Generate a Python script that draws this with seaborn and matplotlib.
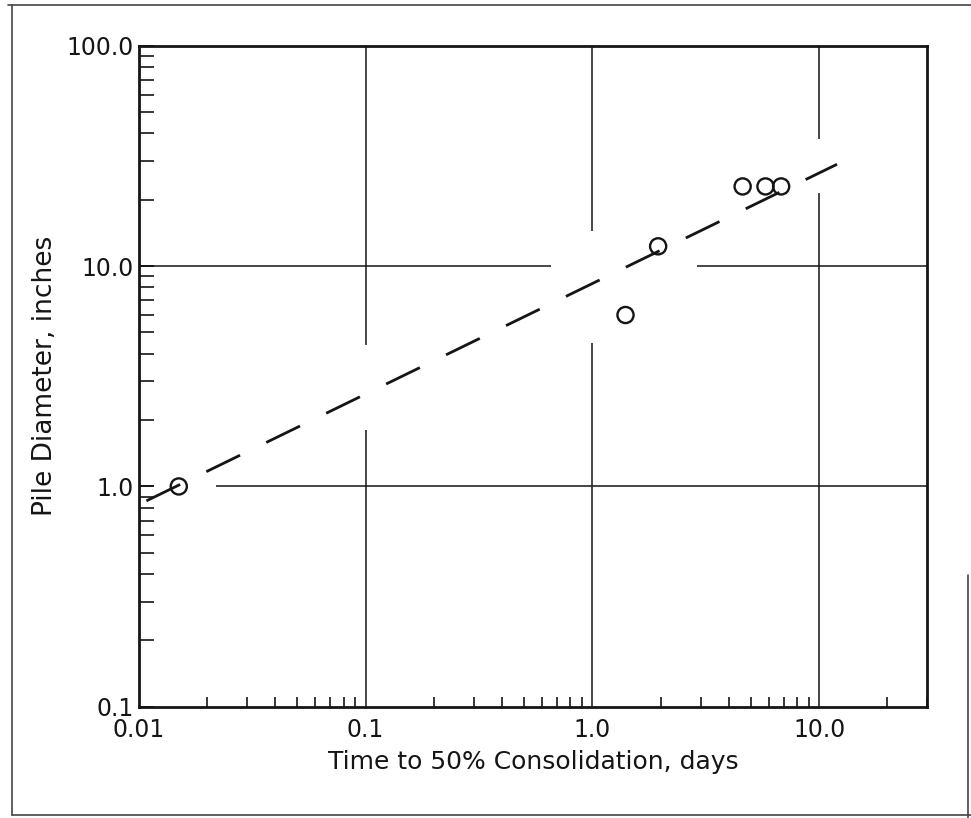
import matplotlib
matplotlib.use("Agg")
import matplotlib.pyplot as plt
import seaborn as sns
import pandas as pd
from matplotlib.lines import Line2D
from matplotlib.ticker import FixedLocator, FixedFormatter, LogLocator, NullFormatter

# ---- data ----
time_days = [0.015, 1.4, 1.95, 4.6, 5.8, 6.8]
pile_diameter_in = [1.0, 6.0, 12.3, 23.0, 23.0, 23.0]
trend_time = [0.0108, 12.0]
trend_diameter = [0.86, 29.0]

x_ticks = [0.01, 0.1, 1.0, 10.0]
x_tick_labels = ["0.01", "0.1", "1.0", "10.0"]
y_ticks = [0.1, 1.0, 10.0, 100.0]
y_tick_labels = ["0.1", "1.0", "10.0", "100.0"]
x_label = "Time to 50% Consolidation, days"
y_label = "Pile Diameter, inches"

points = pd.DataFrame({"t": time_days, "d": pile_diameter_in})
trend = pd.DataFrame({"t": trend_time, "d": trend_diameter})

# ---- style ----
sns.set_theme(style="ticks")
plt.rcParams["font.family"] = ["DejaVu Sans"]
INK = "#151515"

fig = plt.figure(figsize=(9.71, 8.18), dpi=100)
ax = fig.add_axes([0.143, 0.136, 0.812, 0.808])
ax.set_xscale("log")
ax.set_yscale("log")
ax.set_xlim(0.01, 30)
ax.set_ylim(0.1, 100)

# broken grid lines (as drawn in the original)
grid_kw = dict(color=INK, lw=1.1, zorder=1)
ax.vlines(0.1, 0.1, 1.8, **grid_kw)
ax.vlines(0.1, 4.4, 100, **grid_kw)
ax.vlines(1.0, 0.1, 4.5, **grid_kw)
ax.vlines(1.0, 14.5, 100, **grid_kw)
ax.vlines(10.0, 0.1, 21.4, **grid_kw)
ax.vlines(10.0, 37.7, 100, **grid_kw)
ax.hlines(1.0, 0.022, 30, **grid_kw)
ax.hlines(10.0, 0.01, 0.66, **grid_kw)
ax.hlines(10.0, 2.88, 30, **grid_kw)

sns.lineplot(data=trend, x="t", y="d", ax=ax, color=INK, lw=2.0,
             linestyle=(0, (13.5, 10.5)), zorder=2)
sns.scatterplot(data=points, x="t", y="d", ax=ax, marker="o", s=135,
                facecolor="none", edgecolor=INK, linewidth=1.7, zorder=3)

# ticks
ax.xaxis.set_major_locator(FixedLocator(x_ticks))
ax.xaxis.set_major_formatter(FixedFormatter(x_tick_labels))
ax.yaxis.set_major_locator(FixedLocator(y_ticks))
ax.yaxis.set_major_formatter(FixedFormatter(y_tick_labels))
ax.xaxis.set_minor_locator(LogLocator(base=10, subs=range(2, 10), numticks=20))
ax.yaxis.set_minor_locator(LogLocator(base=10, subs=range(2, 10), numticks=20))
ax.xaxis.set_minor_formatter(NullFormatter())
ax.yaxis.set_minor_formatter(NullFormatter())

ax.tick_params(axis="both", which="both", direction="in", colors=INK,
               labelcolor=INK, labelsize=17, bottom=True, left=True,
               top=False, right=False)
ax.tick_params(axis="x", which="major", length=0, pad=8)
ax.tick_params(axis="x", which="minor", length=7, width=1.2)
ax.tick_params(axis="y", which="major", length=11, width=1.4, pad=4)
ax.tick_params(axis="y", which="minor", length=11, width=1.2)

for s in ax.spines.values():
    s.set_color(INK)
    s.set_linewidth(2.0)

ax.set_xlabel(x_label, fontsize=18, color=INK, labelpad=6)
ax.set_ylabel(y_label, fontsize=19, color=INK, labelpad=6)
ax.grid(False)

# outer frame of the figure page
frame_kw = dict(color="#444444", lw=1.2, transform=fig.transFigure)
fig.add_artist(Line2D([0.008, 1.0], [0.994, 0.994], **frame_kw))
fig.add_artist(Line2D([0.012, 0.012], [0.004, 0.994], **frame_kw))
fig.add_artist(Line2D([0.012, 1.0], [0.004, 0.004], **frame_kw))
fig.add_artist(Line2D([0.997, 0.997], [0.0, 0.297], **frame_kw))

fig.savefig("out.png", dpi=100, facecolor="white")
